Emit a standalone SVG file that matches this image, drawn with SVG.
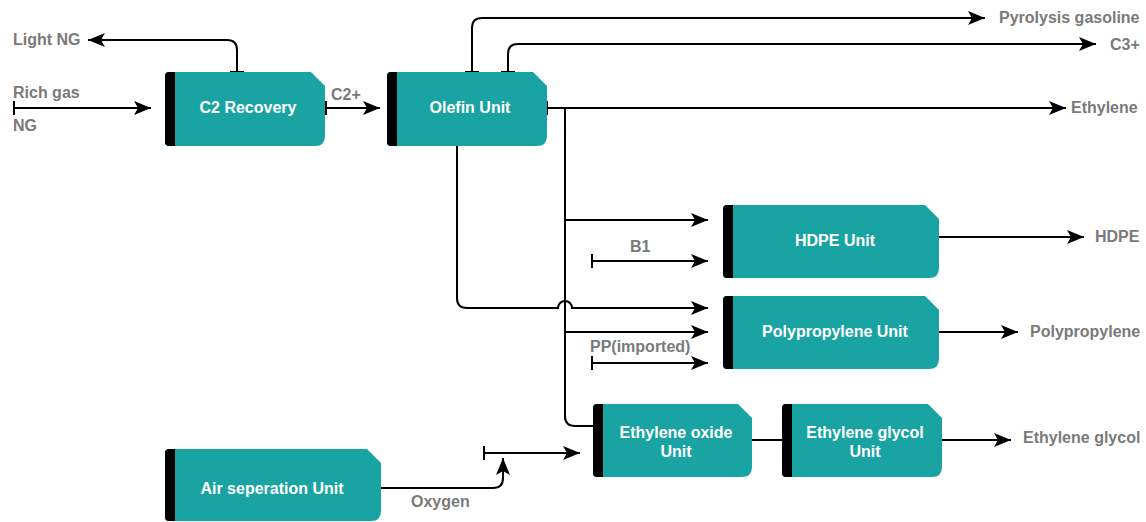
<svg xmlns="http://www.w3.org/2000/svg" width="1146" height="522" viewBox="0 0 1146 522">
<style>
.body{fill:#1aa3a3}
.bar{fill:#000}
.nt{font-family:"Liberation Sans",Arial,sans-serif;font-weight:bold;font-size:16px;fill:#fff;text-anchor:middle}
.lb{font-family:"Liberation Sans",Arial,sans-serif;font-weight:bold;font-size:16px;fill:#7a7a7a}
.c{fill:none;stroke:#000;stroke-width:2}
.a{marker-end:url(#arr)}
.t{marker-start:url(#tee)}
</style>
<defs>
<marker id="arr" markerUnits="userSpaceOnUse" viewBox="0 0 18 14" refX="17" refY="7" markerWidth="18" markerHeight="14" orient="auto">
<path d="M0,0 L17,7 L0,14 L4,7 Z" fill="#000"/>
</marker>
<marker id="tee" markerUnits="userSpaceOnUse" viewBox="0 0 4 14" refX="1" refY="7" markerWidth="4" markerHeight="14" orient="auto">
<rect x="0" y="0" width="2" height="14" fill="#000"/>
</marker>
</defs>
<rect width="1146" height="522" fill="#fff"/>

<g id="connectors">
<path class="c a t" d="M237,72 V50 Q237,40 227,40 H88"/>
<path class="c a t" d="M14,108 H151"/>
<path class="c a t" d="M326,108 H380"/>
<path class="c a t" d="M472,72 V28 Q472,18 482,18 H985"/>
<path class="c a t" d="M508,72 V54 Q508,44 518,44 H1096"/>
<path class="c a t" d="M547,108 H1066"/>
<path class="c" d="M565,108 V416 Q565,426 575,426 H593"/>
<path class="c a" d="M565,220 H708"/>
<path class="c a" d="M565,332 H708"/>
<path class="c a" d="M457,146 V298 Q457,308 467,308 H558 A7,7 0 0 1 572,308 H708"/>
<path class="c a t" d="M592,261 H708"/>
<path class="c a t" d="M592,363 H708"/>
<path class="c a" d="M939,237 H1084"/>
<path class="c a" d="M939,332 H1018"/>
<path class="c" d="M752,440 H782"/>
<path class="c a" d="M942,440 H1011"/>
<path class="c a" d="M381,488 H493 Q503,488 503,478 V458"/>
<path class="c a t" d="M484,453 H580"/>
<text class="lb" x="13" y="45">Light NG</text>
<text class="lb" x="13" y="98">Rich gas</text>
<text class="lb" x="13" y="131">NG</text>
<text class="lb" x="331" y="100">C2+</text>
<text class="lb" x="999" y="23">Pyrolysis gasoline</text>
<text class="lb" x="1110" y="50">C3+</text>
<text class="lb" x="1071" y="113">Ethylene</text>
<text class="lb" x="630" y="252">B1</text>
<text class="lb" x="590" y="352">PP(imported)</text>
<text class="lb" x="1095" y="242">HDPE</text>
<text class="lb" x="1030" y="337">Polypropylene</text>
<text class="lb" x="1023" y="443">Ethylene glycol</text>
<text class="lb" x="411" y="507">Oxygen</text>
</g>

<g id="c2recovery">
<path class="body" d="M169,72 H311 L325,86 V136 Q325,146 315,146 H169 Q165,146 165,142 V76 Q165,72 169,72 Z"/>
<path class="bar" d="M169,72 H175 V146 H169 Q165,146 165,142 V76 Q165,72 169,72 Z"/>
<text class="nt" x="248" y="113">C2 Recovery</text>
</g>

<g id="olefin">
<path class="body" d="M391,72 H533 L547,86 V136 Q547,146 537,146 H391 Q387,146 387,142 V76 Q387,72 391,72 Z"/>
<path class="bar" d="M391,72 H397 V146 H391 Q387,146 387,142 V76 Q387,72 391,72 Z"/>
<text class="nt" x="470" y="113">Olefin Unit</text>
</g>

<g id="hdpe">
<path class="body" d="M727,205 H925 L939,219 V268 Q939,278 929,278 H727 Q723,278 723,274 V209 Q723,205 727,205 Z"/>
<path class="bar" d="M727,205 H733 V278 H727 Q723,278 723,274 V209 Q723,205 727,205 Z"/>
<text class="nt" x="835" y="246">HDPE Unit</text>
</g>

<g id="polypropylene">
<path class="body" d="M727,296 H925 L939,310 V359 Q939,369 929,369 H727 Q723,369 723,365 V300 Q723,296 727,296 Z"/>
<path class="bar" d="M727,296 H733 V369 H727 Q723,369 723,365 V300 Q723,296 727,296 Z"/>
<text class="nt" x="835" y="337">Polypropylene Unit</text>
</g>

<g id="ethyleneoxide">
<path class="body" d="M597,404 H738 L752,418 V467 Q752,477 742,477 H597 Q593,477 593,473 V408 Q593,404 597,404 Z"/>
<path class="bar" d="M597,404 H603 V477 H597 Q593,477 593,473 V408 Q593,404 597,404 Z"/>
<text class="nt" x="676" y="438">Ethylene oxide</text>
<text class="nt" x="676" y="457">Unit</text>
</g>

<g id="ethyleneglycol">
<path class="body" d="M786,404 H928 L942,418 V467 Q942,477 932,477 H786 Q782,477 782,473 V408 Q782,404 786,404 Z"/>
<path class="bar" d="M786,404 H792 V477 H786 Q782,477 782,473 V408 Q782,404 786,404 Z"/>
<text class="nt" x="865" y="438">Ethylene glycol</text>
<text class="nt" x="865" y="457">Unit</text>
</g>

<g id="airseparation">
<path class="body" d="M169,449 H367 L381,463 V511 Q381,521 371,521 H169 Q165,521 165,517 V453 Q165,449 169,449 Z"/>
<path class="bar" d="M169,449 H175 V521 H169 Q165,521 165,517 V453 Q165,449 169,449 Z"/>
<text class="nt" x="272" y="494">Air seperation Unit</text>
</g>
</svg>
